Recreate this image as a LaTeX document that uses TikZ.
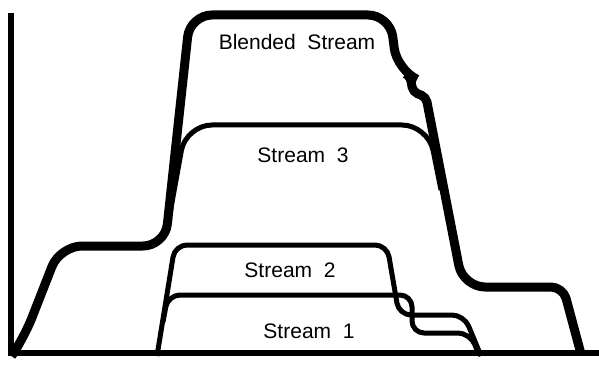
\documentclass[tikz,border=0pt]{standalone}
\usepackage{fontspec}
\setmainfont{Liberation Sans}
\usepackage{tikz}

\begin{document}
\begin{tikzpicture}[x=1pt,y=-1pt,
    axis/.style={line width=6pt},
    blend/.style={line width=9pt,rounded corners=22pt},
    stream/.style={line width=5pt,rounded corners=12pt},
    lbl/.style={font=\fontsize{21}{25}\selectfont}]
    \useasboundingbox(0,0)rectangle(599,366);
    % 坐标轴
    \draw[axis](11,13)--(11,353)--(599,353);
    % 流 2
    \draw[stream](157,356)--(175,245)--(387,245)--(399,315)--(464,315)--(481,356);
    % 流 1
    \draw[stream](163,322)--(168,295)--(412,295)--(412,333)--(470,333)--(477,350);
    % 流 3
    \draw[stream,rounded corners=26pt](167,230)--(186,125)--(428,125)--(441,190);
    % 混合流
    \draw[blend](13,354)--(24,338)--(60,246)--(165,246)--(190,15)--(390,15)--(397,70)
        [rounded corners=5pt]--(410,76)--(413,92)--(426,97)
        [rounded corners=22pt]--(463,287)
        [rounded corners=12pt]--(563,287)--(581,354);
    % 添加标签
    \node[lbl](blendlbl)at(297,42){Blended~~Stream};
    \node[lbl](s3lbl)at(303,155){Stream~~3};
    \node[lbl](s2lbl)at(290,270){Stream~~2};
    \node[lbl](s1lbl)at(309,331){Stream~~1};
\end{tikzpicture}
\end{document}
